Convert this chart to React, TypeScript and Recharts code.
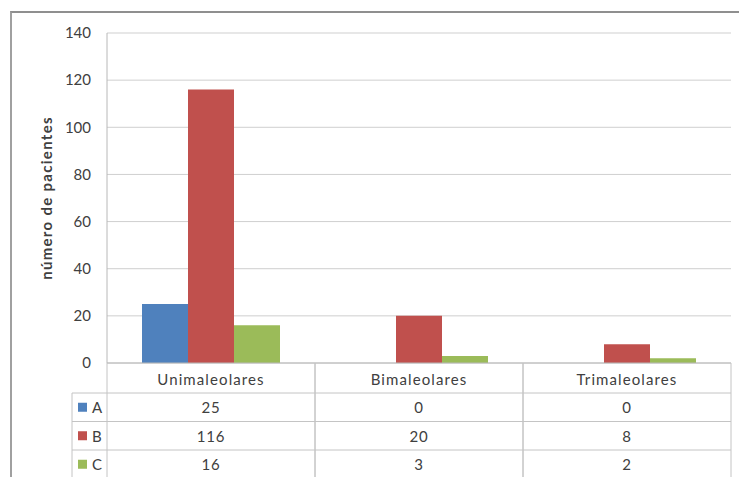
import React from 'react';
import { BarChart, Bar, XAxis, YAxis, CartesianGrid } from 'recharts';

const categories = ['Unimaleolares', 'Bimaleolares', 'Trimaleolares'];
const seriesNames = ['A', 'B', 'C'];
const seriesA = [25, 0, 0];
const seriesB = [116, 20, 8];
const seriesC = [16, 3, 2];
const seriesColors = ['#4F81BD', '#C0504D', '#9BBB59'];
const yTicks = [0, 20, 40, 60, 80, 100, 120, 140];
const yTitle = 'número de pacientes';

const W = 739;
const H = 477;
const MARGIN = { top: 33, right: 8, bottom: 0, left: 0 };
const Y_AXIS_W = 107;
const X_AXIS_H = 114;
const PLOT_W = W - MARGIN.left - MARGIN.right - Y_AXIS_W;
const BAND_W = PLOT_W / categories.length;

const FONT = 'Lato, "Open Sans", sans-serif';
const TEXT = '#404040';
const LINE = '#c4c4c4';

const allSeries = [seriesA, seriesB, seriesC];

const data = categories.map((c, i) => ({
  name: c,
  A: seriesA[i],
  B: seriesB[i],
  C: seriesC[i],
}));

const HEADER_H = 30;
const ROW_H = 28.5;
const LEGEND_COL_W = 35;

const TableTick = (props: any) => {
  const { x, y, payload, index } = props;
  const left = x - BAND_W / 2;
  const right = x + BAND_W / 2;
  const bottom = y + X_AXIS_H + 10;
  const rowLines = [0, 1, 2].map((r) => y + HEADER_H + r * ROW_H);
  const catIdx = categories.indexOf(payload.value);
  return (
    <g>
      <line x1={left} y1={y} x2={left} y2={bottom} stroke={LINE} strokeWidth={1} />
      <line x1={right} y1={y} x2={right} y2={bottom} stroke={LINE} strokeWidth={1} />
      {rowLines.map((ly, r) => (
        <line key={r} x1={left} y1={ly} x2={right} y2={ly} stroke={LINE} strokeWidth={1} />
      ))}
      <text
        x={x}
        y={y + HEADER_H / 2 + 1}
        textAnchor="middle"
        dominantBaseline="central"
        fontFamily={FONT}
        fontSize={15}
        letterSpacing={1.1}
        fill={TEXT}
      >
        {payload.value}
      </text>
      {allSeries.map((s, r) => (
        <text
          key={r}
          x={x}
          y={y + HEADER_H + r * ROW_H + ROW_H / 2}
          textAnchor="middle"
          dominantBaseline="central"
          fontFamily={FONT}
          fontSize={15}
          letterSpacing={0.8}
          fill={TEXT}
        >
          {s[catIdx]}
        </text>
      ))}
      {index === 0 && (
        <g>
          <line
            x1={left - LEGEND_COL_W}
            y1={y + HEADER_H}
            x2={left - LEGEND_COL_W}
            y2={bottom}
            stroke={LINE}
            strokeWidth={1}
          />
          {rowLines.map((ly, r) => (
            <line key={r} x1={left - LEGEND_COL_W} y1={ly} x2={left} y2={ly} stroke={LINE} strokeWidth={1} />
          ))}
          {seriesNames.map((n, r) => {
            const cy = y + HEADER_H + r * ROW_H + ROW_H / 2;
            return (
              <g key={n}>
                <rect x={left - LEGEND_COL_W + 6} y={cy - 4.5} width={9} height={9} fill={seriesColors[r]} />
                <text
                  x={left - LEGEND_COL_W + 20}
                  y={cy}
                  dominantBaseline="central"
                  fontFamily={FONT}
                  fontSize={15}
                  fill={TEXT}
                >
                  {n}
                </text>
              </g>
            );
          })}
        </g>
      )}
    </g>
  );
};

const YTitle = (props: any) => {
  const { viewBox } = props;
  const cx = viewBox.x + 46;
  const cy = viewBox.y + viewBox.height / 2;
  return (
    <text
      x={cx}
      y={cy}
      transform={`rotate(-90 ${cx} ${cy})`}
      textAnchor="middle"
      dominantBaseline="central"
      fontFamily={FONT}
      fontWeight="bold"
      fontSize={15}
      letterSpacing={1.3}
      fill={TEXT}
    >
      {yTitle}
    </text>
  );
};

export default function App() {
  return (
    <div style={{ position: 'absolute', left: 0, top: 0, width: W, height: H, overflow: 'hidden', background: '#fff' }}>
      <div
        style={{
          position: 'absolute',
          left: 10,
          top: 11,
          width: 800,
          height: 600,
          borderTop: '2px solid #8f8f8f',
          borderLeft: '2px solid #a0a0a0',
          boxSizing: 'border-box',
        }}
      />
      <div style={{ position: 'absolute', left: 0, top: 0 }}>
        <BarChart width={W} height={H} data={data} margin={MARGIN} barGap={0} barCategoryGap={35}>
          <CartesianGrid vertical={false} stroke="#cfcfcf" />
          <XAxis
            dataKey="name"
            height={X_AXIS_H}
            tickLine={false}
            tickSize={0}
            tickMargin={0}
            axisLine={{ stroke: '#b8b8b8' }}
            tick={<TableTick />}
            interval={0}
          />
          <YAxis
            width={Y_AXIS_W}
            domain={[0, 140]}
            ticks={yTicks}
            tickLine={false}
            tickMargin={10}
            axisLine={{ stroke: '#b8b8b8' }}
            tick={{ fontFamily: FONT, fontSize: 15, fill: TEXT }}
            label={<YTitle />}
          />
          {seriesNames.map((n, i) => (
            <Bar key={n} dataKey={n} fill={seriesColors[i]} isAnimationActive={false} />
          ))}
        </BarChart>
      </div>
    </div>
  );
}
